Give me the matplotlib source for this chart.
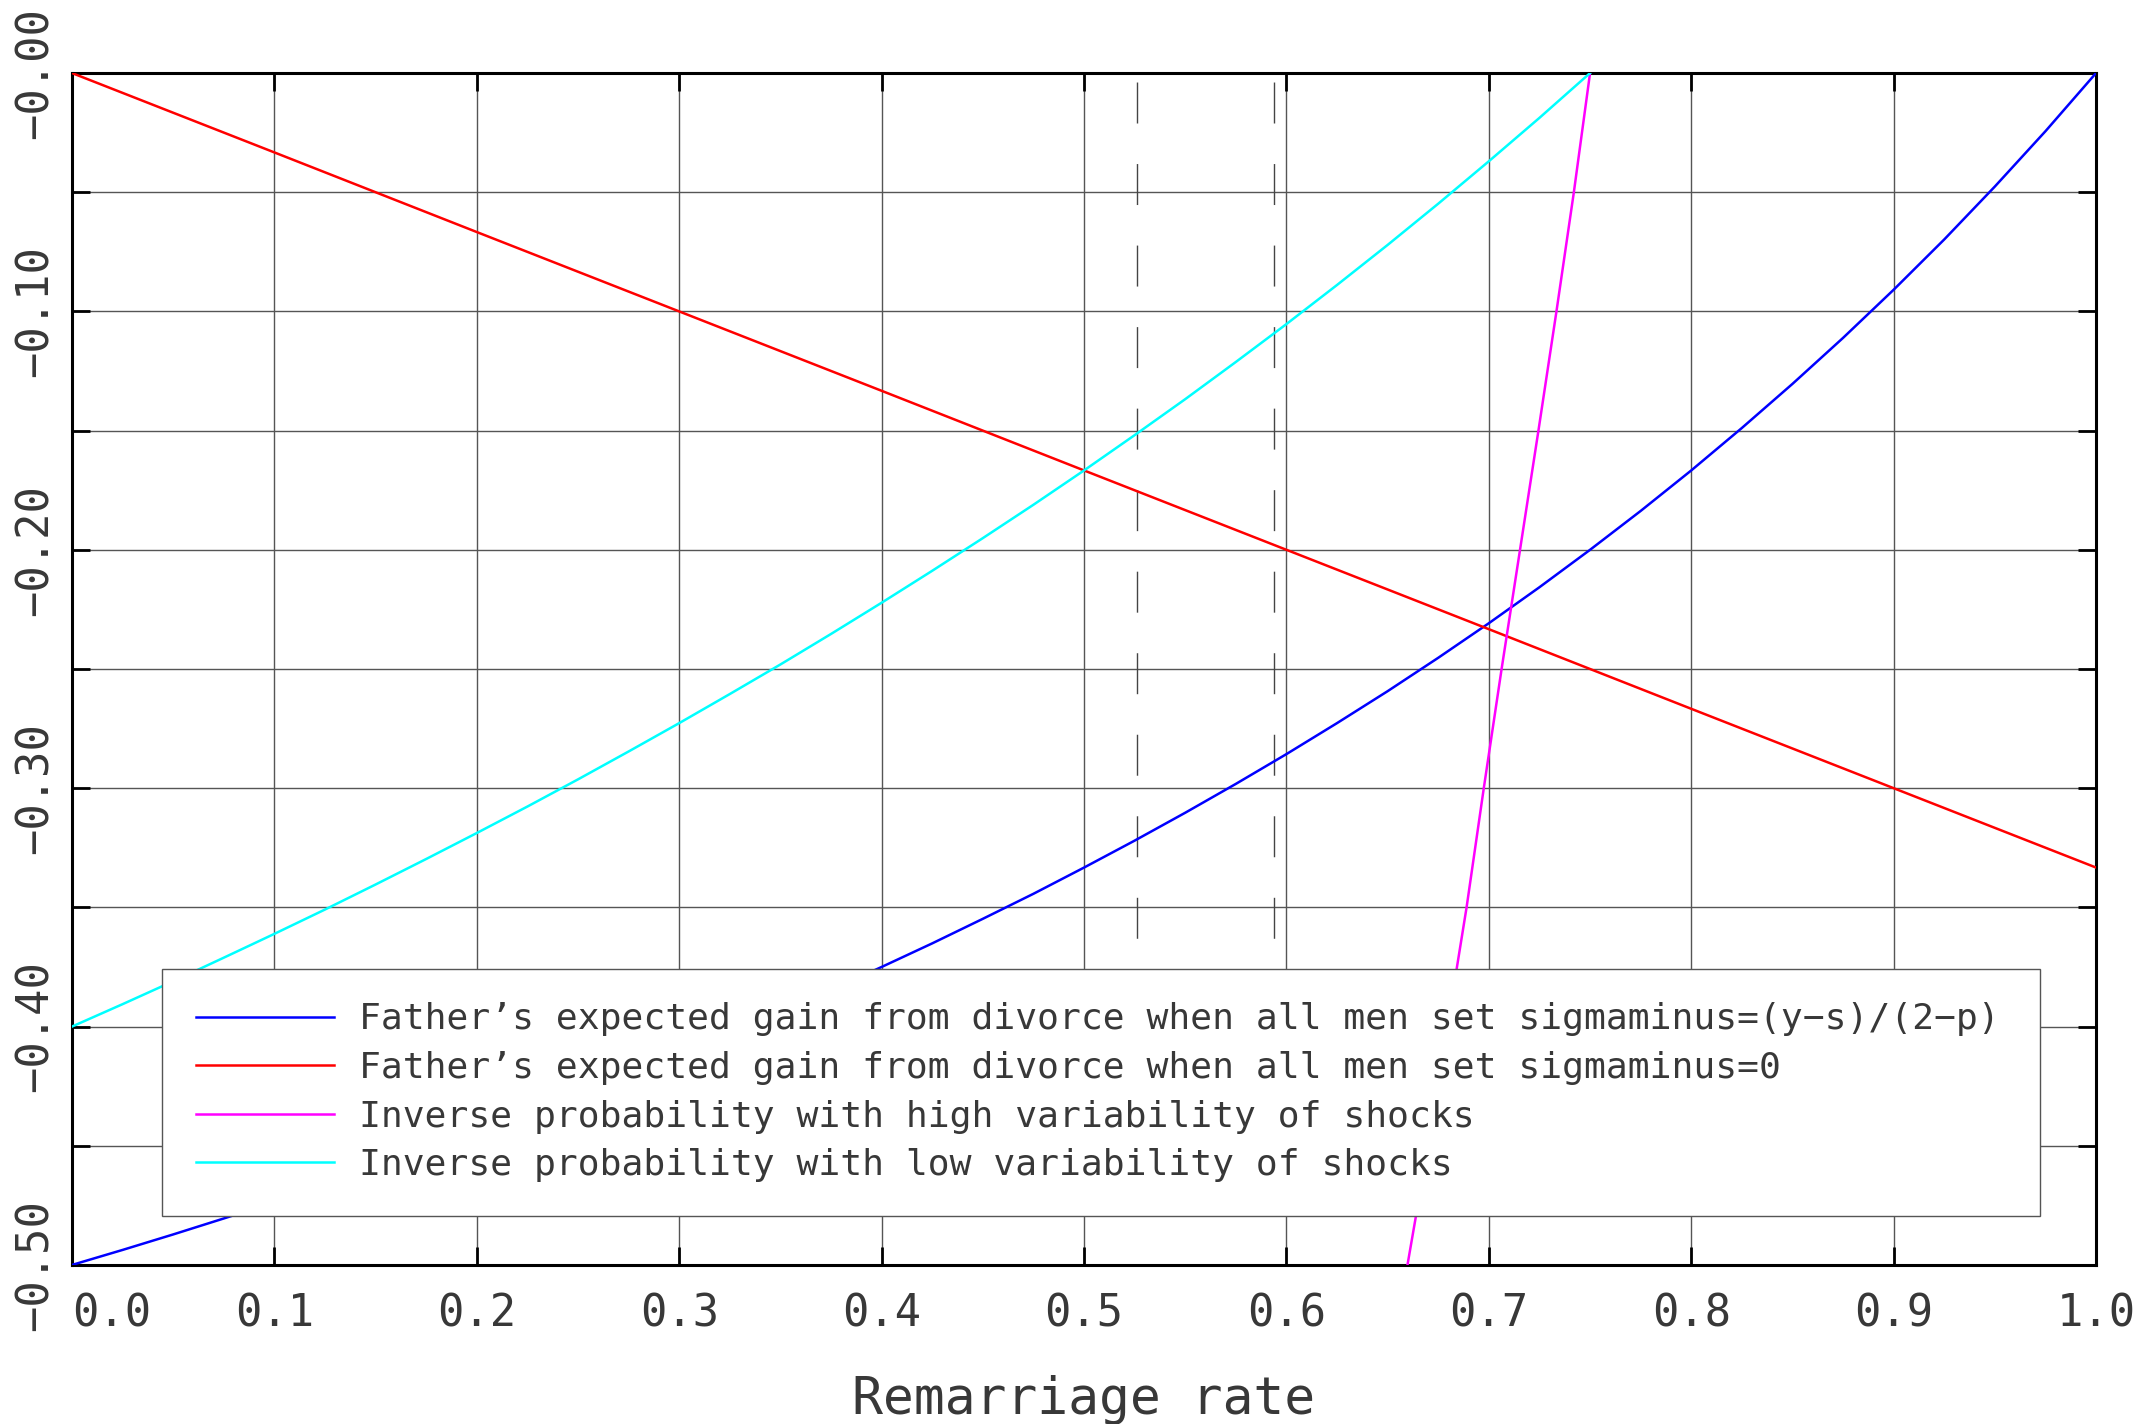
import matplotlib
matplotlib.use('Agg')
import matplotlib.pyplot as plt
from matplotlib.ticker import FixedLocator, FixedFormatter

OUT = 'out.png'
FONT = 'DejaVu Sans Mono'
INK = '#383838'

# remarriage rate grid for the father's-gain curve (sigmaminus=(y-s)/(2-p))
P = [0.000, 0.025, 0.050, 0.075, 0.100, 0.125, 0.150, 0.175, 0.200, 0.225,
     0.250, 0.275, 0.300, 0.325, 0.350, 0.375, 0.400, 0.425, 0.450, 0.475,
     0.500, 0.525, 0.550, 0.575, 0.600, 0.625, 0.650, 0.675, 0.700, 0.725,
     0.750, 0.775, 0.800, 0.825, 0.850, 0.875, 0.900, 0.925, 0.950, 0.975, 1.000]
GAIN_SIGMA = [-0.5000, -0.4937, -0.4872, -0.4805, -0.4737, -0.4667, -0.4595,
              -0.4521, -0.4444, -0.4366, -0.4286, -0.4203, -0.4118, -0.4030,
              -0.3939, -0.3846, -0.3750, -0.3651, -0.3548, -0.3443, -0.3333,
              -0.3220, -0.3103, -0.2982, -0.2857, -0.2727, -0.2593, -0.2453,
              -0.2308, -0.2157, -0.2000, -0.1837, -0.1667, -0.1489, -0.1304,
              -0.1111, -0.0909, -0.0698, -0.0476, -0.0244, 0.0000]

# father's gain with sigmaminus=0 (straight line)
P_RED = [0.0, 0.1, 0.2, 0.3, 0.4, 0.5, 0.6, 0.7, 0.8, 0.9, 1.0]
GAIN_ZERO = [0.0000, -0.0333, -0.0667, -0.1000, -0.1333, -0.1667, -0.2000,
             -0.2333, -0.2667, -0.3000, -0.3333]

# inverse probability, low variability of shocks
P_LOW = [0.000, 0.025, 0.050, 0.075, 0.100, 0.125, 0.150, 0.175, 0.200, 0.225,
         0.250, 0.275, 0.300, 0.325, 0.350, 0.375, 0.400, 0.425, 0.450, 0.475,
         0.500, 0.525, 0.550, 0.575, 0.600, 0.625, 0.650, 0.675, 0.700, 0.725,
         0.750]
INV_LOW = [-0.4000, -0.3906, -0.3810, -0.3711, -0.3611, -0.3509, -0.3404,
           -0.3297, -0.3188, -0.3077, -0.2963, -0.2846, -0.2727, -0.2605,
           -0.2481, -0.2353, -0.2222, -0.2088, -0.1951, -0.1811, -0.1667,
           -0.1519, -0.1368, -0.1212, -0.1053, -0.0889, -0.0721, -0.0548,
           -0.0370, -0.0188, 0.0000]

# inverse probability, high variability of shocks (steep, read along y)
P_HIGH = [0.7500, 0.7420, 0.7334, 0.7245, 0.7154, 0.7063, 0.6975, 0.6890,
          0.6795, 0.6700, 0.6598]
INV_HIGH = [0.00, -0.05, -0.10, -0.15, -0.20, -0.25, -0.30, -0.35, -0.40,
            -0.45, -0.50]

# vertical dashed markers
DASH_P = [0.526, 0.594]
DASH_Y = [0.0, -0.3634]

LABELS = [
    'Father\u2019s expected gain from divorce when all men set sigmaminus=(y\u2212s)/(2\u2212p)',
    'Father\u2019s expected gain from divorce when all men set sigmaminus=0',
    'Inverse probability with high variability of shocks',
    'Inverse probability with low variability of shocks',
]

X_TICKS = [0.0, 0.1, 0.2, 0.3, 0.4, 0.5, 0.6, 0.7, 0.8, 0.9, 1.0]
X_TICKLABELS = ['0.0', '0.1', '0.2', '0.3', '0.4', '0.5', '0.6', '0.7', '0.8', '0.9', '1.0']
Y_TICKS = [0.00, -0.05, -0.10, -0.15, -0.20, -0.25, -0.30, -0.35, -0.40, -0.45, -0.50]
Y_TICKLABELS = ['\u22120.00', '', '\u22120.10', '', '\u22120.20', '', '\u22120.30', '',
                '\u22120.40', '', '\u22120.50']


def main():
    fig = plt.figure(figsize=(21.56, 14.24), dpi=100)
    ax = fig.add_axes([0.0334, 0.1117, 0.9388, 0.8370])

    lw = 1.8
    l_blue, = ax.plot(P, GAIN_SIGMA, color='#0000ff', lw=lw, zorder=3)
    l_red, = ax.plot(P_RED, GAIN_ZERO, color='#ff0000', lw=lw, zorder=3)
    l_mag, = ax.plot(P_HIGH, INV_HIGH, color='#ff00ff', lw=lw, zorder=3)
    l_cyan, = ax.plot(P_LOW, INV_LOW, color='#00ffff', lw=lw, zorder=3)

    for xd in DASH_P:
        ax.plot([xd, xd], DASH_Y, color='#444444', lw=1.0,
                linestyle=(52.2, (29.5, 29.2)), zorder=2)

    ax.set_xlim(0, 1)
    ax.set_ylim(-0.5, 0)

    ax.xaxis.set_major_locator(FixedLocator(X_TICKS))
    ax.xaxis.set_major_formatter(FixedFormatter(X_TICKLABELS))
    ax.yaxis.set_major_locator(FixedLocator(Y_TICKS))
    ax.yaxis.set_major_formatter(FixedFormatter(Y_TICKLABELS))

    ax.grid(True, color='#555555', lw=1.0, zorder=1)
    ax.set_axisbelow(True)
    ax.tick_params(direction='in', length=13, width=2.0, color='black',
                   top=True, right=True, labelsize=31.5, labelcolor=INK)
    ax.tick_params(axis='x', pad=20)
    ax.tick_params(axis='y', pad=11)
    for s in ax.spines.values():
        s.set_linewidth(2.2)
        s.set_color('black')

    for t in ax.get_xticklabels():
        t.set_fontfamily(FONT)
    ax.get_xticklabels()[0].set_ha('left')   # first label sits right of the corner
    for t in ax.get_yticklabels():
        t.set_fontfamily(FONT)
        t.set_rotation(90)
        t.set_va('center')

    ax.set_xlabel('Remarriage rate', fontsize=37, family=FONT, color=INK, labelpad=28)

    leg = ax.legend([l_blue, l_red, l_mag, l_cyan], LABELS,
                    loc='upper left', bbox_to_anchor=(0.0445, 0.0428, 0.9278, 0.2055),
                    mode='expand', borderaxespad=0, prop={'family': FONT, 'size': 26.2},
                    handlelength=3.8, handletextpad=0.7, borderpad=0.92,
                    labelspacing=0.40, fancybox=False, framealpha=1,
                    edgecolor='#555555')
    leg.get_frame().set_linewidth(1.0)
    for t in leg.get_texts():
        t.set_color(INK)
    leg.set_zorder(5)

    fig.savefig(OUT, dpi=100)


if __name__ == '__main__':
    main()
